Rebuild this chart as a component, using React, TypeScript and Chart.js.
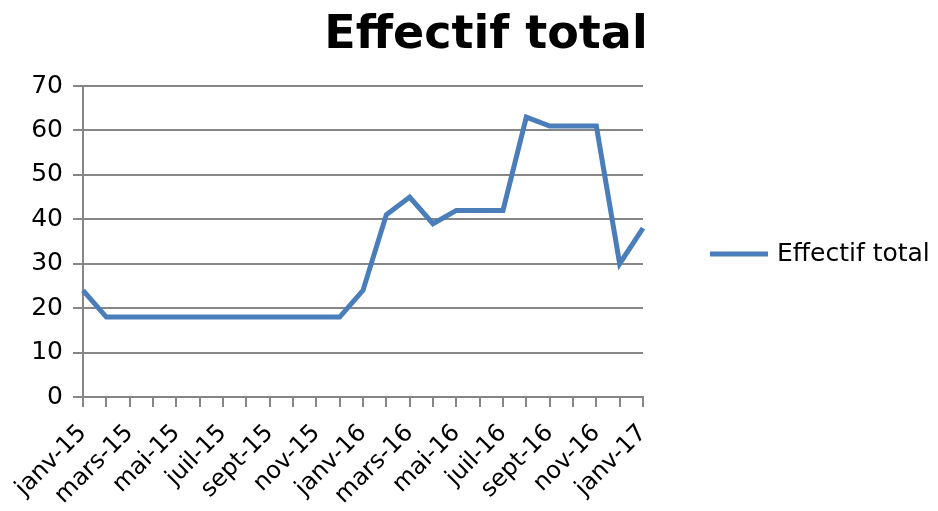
import React, { useEffect, useRef } from "react";
import { Chart, registerables } from "chart.js";

Chart.register(...registerables);

// Monthly headcount, January 2015 to January 2017
const months = [
  "janv-15", "févr-15", "mars-15", "avr-15", "mai-15", "juin-15", "juil-15", "août-15",
  "sept-15", "oct-15", "nov-15", "déc-15", "janv-16", "févr-16", "mars-16", "avr-16",
  "mai-16", "juin-16", "juil-16", "août-16", "sept-16", "oct-16", "nov-16", "déc-16",
  "janv-17",
];
const effectifTotal = [
  24, 18, 18, 18, 18, 18, 18, 18, 18, 18, 18, 18, 24, 41, 45, 39,
  42, 42, 42, 63, 61, 61, 61, 30, 38,
];
const yTicks = [0, 10, 20, 30, 40, 50, 60, 70];

const TITLE = "Effectif total";
const SERIES = "Effectif total";
const LINE_COLOR = "#4a7ebb";
const GRID_COLOR = "#868686";
const FONT = "'DejaVu Sans', sans-serif";

// Title above the plot and a single legend entry on the right
const decorations = {
  id: "decorations",
  afterDraw(chart: Chart) {
    const ctx = chart.ctx;
    ctx.save();
    ctx.fillStyle = "#000";
    ctx.font = `bold 46px ${FONT}`;
    ctx.textAlign = "center";
    ctx.textBaseline = "alphabetic";
    ctx.fillText(TITLE, 486, 48);

    const ly = 254;
    ctx.strokeStyle = LINE_COLOR;
    ctx.lineWidth = 5;
    ctx.beginPath();
    ctx.moveTo(710, ly);
    ctx.lineTo(768, ly);
    ctx.stroke();
    ctx.font = `25px ${FONT}`;
    ctx.textAlign = "left";
    ctx.textBaseline = "middle";
    ctx.fillText(SERIES, 777, ly);
    ctx.restore();
  },
};

export default function App() {
  const ref = useRef<HTMLCanvasElement>(null);

  useEffect(() => {
    const canvas = ref.current;
    if (!canvas) return;
    const chart = new Chart(canvas, {
      type: "line",
      data: {
        labels: months,
        datasets: [
          {
            label: SERIES,
            data: effectifTotal,
            borderColor: LINE_COLOR,
            backgroundColor: LINE_COLOR,
            borderWidth: 5,
            pointRadius: 0,
            tension: 0,
          },
        ],
      },
      options: {
        responsive: false,
        animation: false,
        layout: { padding: { top: 86, right: 295, left: 0, bottom: 0 } },
        plugins: {
          legend: { display: false },
          title: { display: false },
          tooltip: { enabled: false },
        },
        scales: {
          x: {
            type: "category",
            offset: false,
            afterFit(scale: any) {
              scale.height = 511 - 397;
            },
            grid: {
              drawOnChartArea: false,
              drawTicks: true,
              tickLength: 10,
              color: GRID_COLOR,
              lineWidth: 2,
            },
            border: { color: GRID_COLOR, width: 2 },
            ticks: {
              autoSkip: false,
              maxRotation: 45,
              minRotation: 45,
              color: "#000",
              font: { family: FONT, size: 24 },
              padding: 12,
              callback(_v: any, i: number) {
                return i % 2 === 0 ? months[i] : "";
              },
            },
          },
          y: {
            min: 0,
            max: 70,
            afterFit(scale: any) {
              scale.width = 83;
            },
            afterBuildTicks(scale: any) {
              scale.ticks = yTicks.map((v) => ({ value: v }));
            },
            grid: {
              color: GRID_COLOR,
              lineWidth: 2,
              tickLength: 10,
            },
            border: { color: GRID_COLOR, width: 2 },
            ticks: {
              color: "#000",
              font: { family: FONT, size: 25 },
              padding: 10,
            },
          },
        },
      },
      plugins: [decorations],
    });
    return () => chart.destroy();
  }, []);

  return (
    <div style={{ position: "absolute", left: 0, top: 0, width: 938, height: 511, background: "#fff" }}>
      <canvas ref={ref} width={938} height={511} style={{ display: "block" }} />
    </div>
  );
}
